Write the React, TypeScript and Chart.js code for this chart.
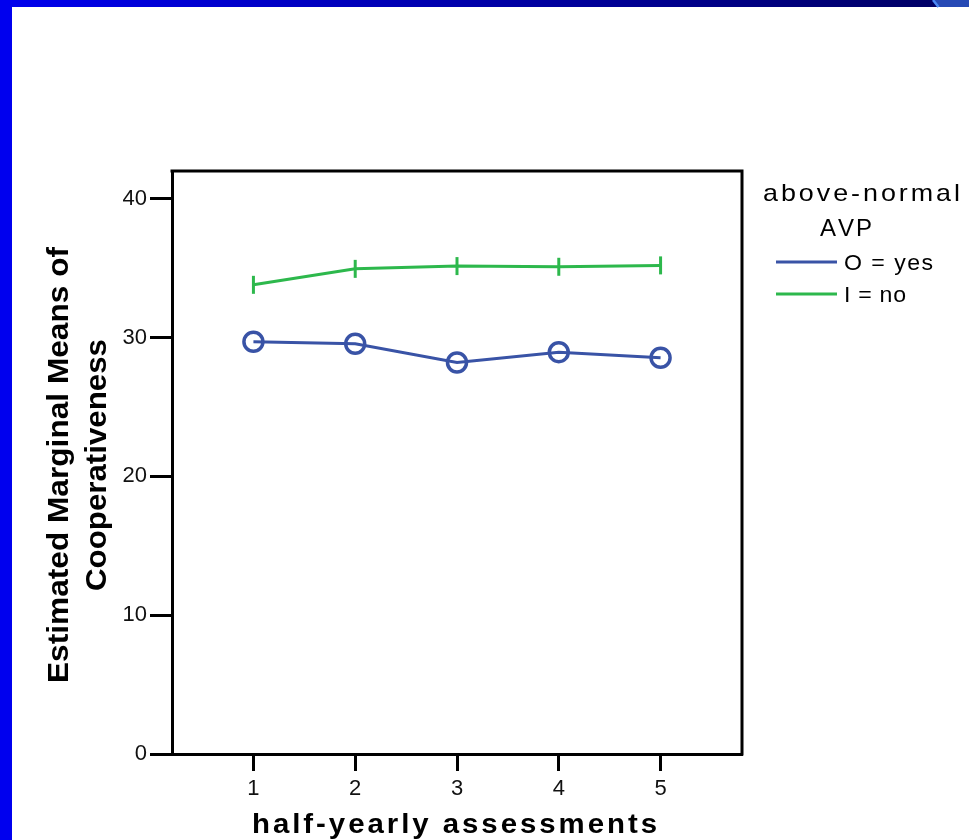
import React, { useEffect, useRef } from "react";
import { Chart, registerables } from "chart.js";

Chart.register(...registerables);

const assessments = [1, 2, 3, 4, 5];
const yesValues = [29.7, 29.55, 28.2, 28.95, 28.55];
const noValues = [33.8, 34.95, 35.15, 35.1, 35.2];
const seriesLabels = ["O = yes", "I = no"];
const yTicks = [0, 10, 20, 30, 40];
const legendTitle = ["above-normal", "AVP"];
const yTitle = ["Estimated Marginal Means of", "Cooperativeness"];
const xTitle = "half-yearly assessments";

const FONT = '"Liberation Sans", Arial, Helvetica, sans-serif';
const BLUE = "#3953A6";
const GREEN = "#2DB84C";

// draws text fitting a target width: glyphs stretched by `stretch`, remainder as letter gaps
function drawFit(
  ctx: CanvasRenderingContext2D,
  text: string,
  x: number,
  y: number,
  width: number,
  align: "left" | "center",
  stretch: number
) {
  const chars = Array.from(text);
  let natural = 0;
  for (const ch of chars) natural += ctx.measureText(ch).width;
  let s = stretch;
  if (natural * s > width) s = width / natural;
  const gap = chars.length > 1 ? (width - natural * s) / (chars.length - 1) : 0;
  let cx = align === "center" ? x - width / 2 : x;
  ctx.textAlign = "left";
  for (const ch of chars) {
    ctx.save();
    ctx.translate(cx, y);
    ctx.scale(s, 1);
    ctx.fillText(ch, 0, 0);
    ctx.restore();
    cx += ctx.measureText(ch).width * s + gap;
  }
}

const framePlugin = {
  id: "frame",
  beforeDraw(chart: any) {
    const ctx = chart.ctx as CanvasRenderingContext2D;
    const w = chart.width;
    const h = chart.height;
    ctx.save();
    ctx.fillStyle = "#ffffff";
    ctx.fillRect(0, 0, w, h);
    const g = ctx.createLinearGradient(0, 0, 935, 0);
    g.addColorStop(0, "#0000EE");
    g.addColorStop(1, "#000066");
    ctx.fillStyle = g;
    ctx.fillRect(0, 0, w, 7);
    ctx.fillStyle = "#2649B5";
    ctx.beginPath();
    ctx.moveTo(934, 0);
    ctx.lineTo(w, 0);
    ctx.lineTo(w, 7);
    ctx.lineTo(939, 7);
    ctx.closePath();
    ctx.fill();
    ctx.strokeStyle = "#4A88F5";
    ctx.lineWidth = 2.5;
    ctx.beginPath();
    ctx.moveTo(933, 0);
    ctx.lineTo(938.5, 7);
    ctx.stroke();
    ctx.fillStyle = "#0000EE";
    ctx.fillRect(0, 0, 12, h);
    ctx.restore();
  },
  afterDraw(chart: any) {
    const ctx = chart.ctx as CanvasRenderingContext2D;
    const a = chart.chartArea;
    ctx.save();
    ctx.strokeStyle = "#000";
    ctx.lineWidth = 3;
    ctx.beginPath();
    ctx.moveTo(a.left - 1.5, a.top);
    ctx.lineTo(a.right, a.top);
    ctx.lineTo(a.right, a.bottom + 1.5);
    ctx.stroke();

    ctx.fillStyle = "#000";
    ctx.textBaseline = "alphabetic";
    ctx.font = `bold 28px ${FONT}`;
    drawFit(ctx, xTitle, 454.5, 833, 405, "center", 1.05);

    ctx.font = `bold 29px ${FONT}`;
    ctx.save();
    ctx.translate(68, 465);
    ctx.rotate(-Math.PI / 2);
    drawFit(ctx, yTitle[0], 0, 0, 436, "center", 1.2);
    ctx.restore();
    ctx.save();
    ctx.translate(106, 465);
    ctx.rotate(-Math.PI / 2);
    drawFit(ctx, yTitle[1], 0, 0, 252, "center", 1.2);
    ctx.restore();

    ctx.font = `24px ${FONT}`;
    drawFit(ctx, legendTitle[0], 763, 201, 197, "left", 1.12);
    drawFit(ctx, legendTitle[1], 820, 236, 52, "left", 1.0);
    const ds = chart.data.datasets;
    const rows = [
      { y: 262, w: 89 },
      { y: 294, w: 62 },
    ];
    ds.forEach((d: any, i: number) => {
      const r = rows[i];
      ctx.strokeStyle = d.borderColor;
      ctx.lineWidth = 3;
      ctx.beginPath();
      ctx.moveTo(776, r.y);
      ctx.lineTo(837, r.y);
      ctx.stroke();
      ctx.fillStyle = "#000";
      ctx.font = `22px ${FONT}`;
      drawFit(ctx, d.label, 844, r.y + 8, r.w, "left", 1.05);
    });
    ctx.restore();
  },
};

export default function App() {
  const ref = useRef<HTMLCanvasElement>(null);
  useEffect(() => {
    if (!ref.current) return;
    const chart = new Chart(ref.current, {
      type: "line",
      data: {
        datasets: [
          {
            label: seriesLabels[0],
            data: assessments.map((x, i) => ({ x, y: yesValues[i] })),
            borderColor: BLUE,
            backgroundColor: "rgba(0,0,0,0)",
            borderWidth: 3,
            pointStyle: "circle",
            pointRadius: 9.5,
            pointBorderWidth: 3.5,
            pointBorderColor: BLUE,
            pointBackgroundColor: "rgba(0,0,0,0)",
            tension: 0,
          },
          {
            label: seriesLabels[1],
            data: assessments.map((x, i) => ({ x, y: noValues[i] })),
            borderColor: GREEN,
            backgroundColor: "rgba(0,0,0,0)",
            borderWidth: 3,
            pointStyle: "line",
            pointRotation: 90,
            pointRadius: 9,
            pointBorderWidth: 3,
            pointBorderColor: GREEN,
            tension: 0,
          },
        ],
      },
      options: {
        responsive: false,
        animation: false,
        events: [],
        layout: { padding: { top: 171, right: 227, left: 0, bottom: 0 } },
        plugins: {
          legend: { display: false },
          tooltip: { enabled: false },
          title: { display: false },
        },
        scales: {
          x: {
            type: "linear",
            min: 0.2,
            max: 5.8,
            afterFit: (s: any) => {
              s.height = 86;
            },
            afterBuildTicks: (s: any) => {
              s.ticks = assessments.map((v) => ({ value: v }));
            },
            border: { display: true, color: "#000", width: 3 },
            grid: {
              drawOnChartArea: false,
              drawTicks: true,
              tickLength: 17,
              tickWidth: 3,
              tickColor: "#000",
            },
            ticks: {
              includeBounds: false,
              padding: 5,
              color: "#111",
              font: { family: FONT, size: 22 },
              maxRotation: 0,
              autoSkip: false,
            },
          },
          y: {
            type: "linear",
            min: 0,
            max: 42,
            afterFit: (s: any) => {
              s.width = 172;
            },
            afterBuildTicks: (s: any) => {
              s.ticks = yTicks.map((v) => ({ value: v }));
            },
            border: { display: true, color: "#000", width: 3 },
            grid: {
              drawOnChartArea: false,
              drawTicks: true,
              tickLength: 22,
              tickWidth: 3,
              tickColor: "#000",
            },
            ticks: {
              includeBounds: false,
              padding: 3,
              color: "#111",
              font: { family: FONT, size: 22 },
              autoSkip: false,
            },
          },
        },
      },
      plugins: [framePlugin],
    });
    return () => chart.destroy();
  }, []);
  return (
    <div style={{ position: "absolute", left: 0, top: 0, width: 969, height: 840 }}>
      <canvas ref={ref} width={969} height={840} style={{ display: "block" }} />
    </div>
  );
}
